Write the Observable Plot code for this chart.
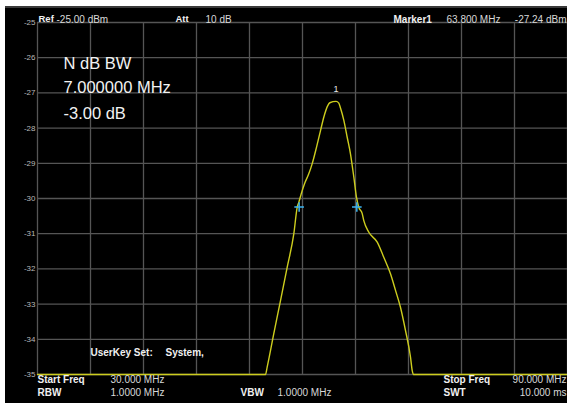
<!DOCTYPE html>
<html>
<head>
<meta charset="utf-8">
<script src="https://cdn.jsdelivr.net/npm/d3@7"></script>
<script src="https://cdn.jsdelivr.net/npm/@observablehq/plot@0.6"></script>
<style>
  html, body { margin: 0; padding: 0; background: #fff; width: 567px; height: 403px; overflow: hidden; }
  #chart { position: absolute; left: 5px; top: 6px; width: 562px; height: 397px; background: #000; border-top: 2px solid #3a3a3a; box-sizing: border-box; }
  #chart svg { position: absolute; left: 0; top: -2px; }
</style>
</head>
<body>
<div id="chart"></div>
<script>
// ---- data ----
const freqMHz = [30, 55.81, 56.00, 56.75, 57.51, 58.27, 59.02, 59.40, 59.58, 59.85, 60.23, 60.71, 61.10, 61.59, 62.04, 62.41, 62.86, 63.09, 63.80, 64.11, 64.30, 64.68, 65.06, 65.43, 65.81, 66.11, 66.37, 66.76, 66.94, 67.51, 68.46, 69.20, 69.96, 70.53, 71.09, 71.66, 72.23, 72.42, 72.57, 90];
const levelDBm = [-35, -35, -34.79, -33.84, -32.90, -31.95, -31.00, -30.25, -30.11, -29.87, -29.58, -29.30, -29.01, -28.54, -28.07, -27.69, -27.36, -27.28, -27.24, -27.29, -27.43, -27.78, -28.26, -28.73, -29.39, -29.96, -30.25, -30.43, -30.63, -30.96, -31.24, -31.67, -32.14, -32.61, -33.09, -33.75, -34.51, -34.89, -35, -35];
const markerFreq = [63.80];
const markerLevel = [-27.24];
const markerLabel = ["1"];
const ndbFreq = [59.62, 66.15];
const ndbLevel = [-30.24, -30.24];
const xGridTicks = [30, 36, 42, 48, 54, 60, 66, 72, 78, 84, 90];
const yTicks = [-25, -26, -27, -28, -29, -30, -31, -32, -33, -34, -35];
const infoLines = ["N dB BW", "7.000000 MHz", "-3.00 dB"];
const headerLabels = ["Ref", "Att", "Marker1"];
const headerValues = ["-25.00 dBm", "10 dB", "63.800 MHz", "-27.24 dBm"];
const footerLabels = ["Start Freq", "RBW", "VBW", "Stop Freq", "SWT"];
const footerValues = ["30.000 MHz", "1.0000 MHz", "1.0000 MHz", "90.000 MHz", "10.000 ms"];
const userKeyText = ["UserKey Set:", "System,"];

const trace = freqMHz.map((f, i) => ({f, v: levelDBm[i]}));
const markers = markerFreq.map((f, i) => ({f, v: markerLevel[i], label: markerLabel[i]}));
const ndb = ndbFreq.map((f, i) => ({f, v: ndbLevel[i]}));

const FONT = "'Liberation Sans', Arial, sans-serif";
function label(text, anchor, dx, dy, opts = {}) {
  return Plot.text([text], {
    text: d => d, frameAnchor: anchor, dx, dy,
    textAnchor: opts.textAnchor || "start",
    fill: opts.fill || "#d8d8d8",
    fontSize: opts.fontSize || 10,
    fontWeight: opts.fontWeight || "normal",
    fontFamily: FONT
  });
}
const B = {fontWeight: "bold", fill: "#f0f0f0"};

const chart = Plot.plot({
  width: 562,
  height: 397,
  marginLeft: 32,
  marginRight: 0,
  marginTop: 16,
  marginBottom: 29,
  style: {background: "transparent", fontFamily: FONT, overflow: "visible"},
  x: {domain: [30, 90], axis: null},
  y: {domain: [-35, -25], axis: null},
  marks: [
    Plot.gridX(xGridTicks, {stroke: "#555", strokeOpacity: 1, strokeWidth: 1.3}),
    Plot.gridY(yTicks, {stroke: "#555", strokeOpacity: 1, strokeWidth: 1.3}),
    Plot.axisY(yTicks, {label: null, tickSize: 0, tickPadding: 2, fontSize: 8, fill: "#b8b8b8", tickFormat: d => String(d), fontFamily: FONT}),
    Plot.line(trace, {x: "f", y: "v", stroke: "#cdcd1e", strokeWidth: 1.4, curve: "monotone-x"}),
    Plot.dot(ndb, {x: "f", y: "v", symbol: "plus", r: 3.2, stroke: "#3cb4f0", strokeWidth: 1.5}),
    Plot.text(markers, {x: "f", y: "v", text: "label", dy: -12, fill: "#e8e8e8", fontSize: 9, fontFamily: FONT}),
    // info block
    label(infoLines[0], "top-left", 26, 34.5, {fontSize: 16.5, fill: "#f2f2f2"}),
    label(infoLines[1], "top-left", 26, 59, {fontSize: 16.5, fill: "#f2f2f2"}),
    label(infoLines[2], "top-left", 26, 85, {fontSize: 16.5, fill: "#f2f2f2"}),
    // header
    label(headerLabels[0], "top-left", 1, -7, {...B, fontSize: 9.5}),
    label(headerValues[0], "top-left", 19, -7),
    label(headerLabels[1], "top-left", 138, -7, {...B, fontSize: 9.5}),
    label(headerValues[1], "top-left", 168, -7),
    label(headerLabels[2], "top-left", 356, -7, B),
    label(headerValues[2], "top-left", 409, -7),
    label(headerValues[3], "top-right", -1, -7, {textAnchor: "end"}),
    // user key
    label(userKeyText[0], "bottom-left", 53, -19, B),
    label(userKeyText[1], "bottom-left", 128, -19, B),
    // footer
    label(footerLabels[0], "bottom-left", 0, 8, B),
    label(footerValues[0], "bottom-left", 73, 8),
    label(footerLabels[1], "bottom-left", 0, 21.5, B),
    label(footerValues[1], "bottom-left", 73, 21.5),
    label(footerLabels[2], "bottom-left", 203, 21.5, B),
    label(footerValues[2], "bottom-left", 240, 21.5),
    label(footerLabels[3], "bottom-left", 406, 8, B),
    label(footerValues[3], "bottom-right", -1, 8, {textAnchor: "end"}),
    label(footerLabels[4], "bottom-left", 406, 21.5, B),
    label(footerValues[4], "bottom-right", -1, 21.5, {textAnchor: "end"})
  ]
});
document.getElementById("chart").appendChild(chart);
</script>
</body>
</html>
